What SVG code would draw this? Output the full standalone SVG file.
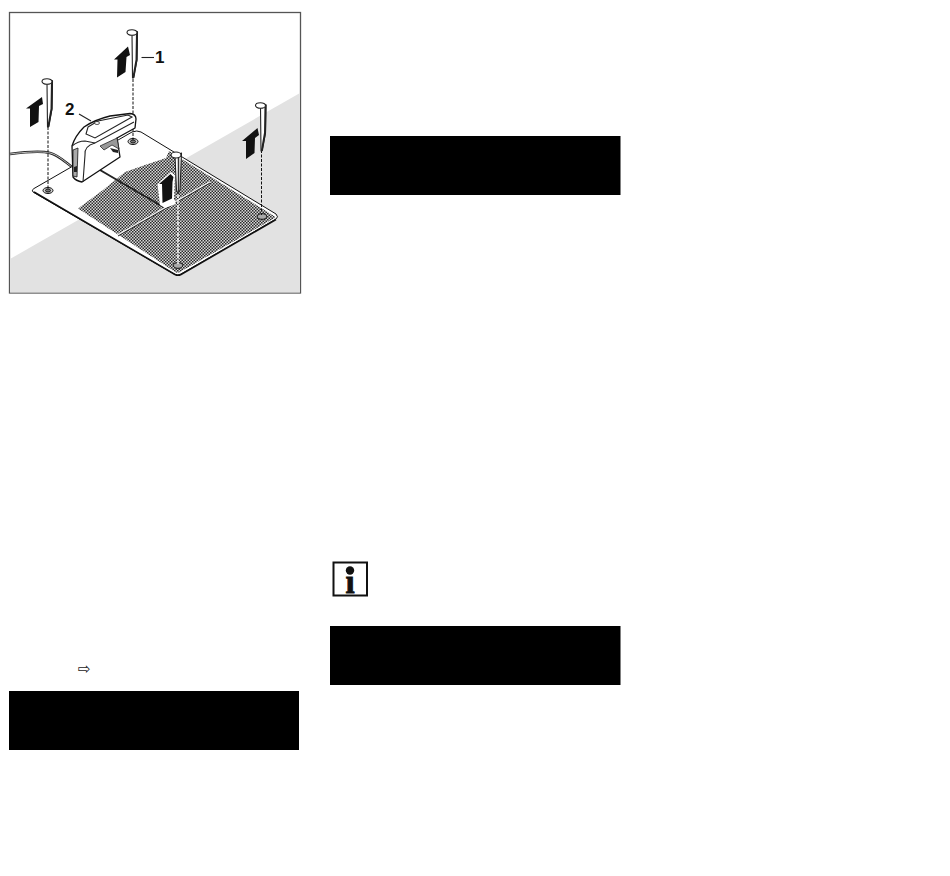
<svg xmlns="http://www.w3.org/2000/svg" width="950" height="876" viewBox="0 0 950 876">
<style>
.o{stroke:#111;stroke-width:1.300;stroke-linejoin:round;stroke-linecap:round}
.h{stroke:#111;stroke-width:1}
.peg{fill:#fff;stroke:#222;stroke-width:1.100;stroke-linejoin:round}
.pegr{fill:none;stroke:#222;stroke-width:2;stroke-linecap:round}
.arr{fill:#111;stroke:none}
.dash{fill:none;stroke:#111;stroke-width:1;stroke-dasharray:3 1.500}
.dashw{fill:none;stroke:#fff;stroke-width:1.400;stroke-dasharray:4 1.500}
.thin{fill:none;stroke:#222;stroke-width:1.100}
.bar{fill:#000}
.lab{font-family:"Liberation Sans",Arial,sans-serif;font-weight:bold;font-size:17px;fill:#111}
</style>
<defs>
<pattern id="mesh" width="3" height="3" patternUnits="userSpaceOnUse">
<rect width="3" height="3" fill="#d8d8d8"/>
<rect width="1.500" height="1.500" fill="#2a2a2a"/>
<rect x="1.500" y="1.500" width="1.500" height="1.500" fill="#2a2a2a"/>
</pattern>
<g id="pegShape">
<path class="peg" d="M1.500 2 L2 46 L3 46 L6.500 28 L7 0 Z"/>
<path class="pegr" d="M6.500 0 L6 28 L3 45"/>
<ellipse class="peg" cx="1.500" cy="0.500" rx="5" ry="2.800"/>
</g>
</defs>
<rect width="950" height="876" fill="#fff"/>
<g id="illustration">
<rect x="9.500" y="12.500" width="291" height="280.500" fill="#fff" stroke="#555" stroke-width="1.300"/>
<polygon points="300,93 300,292.400 10,292.400 10,259" fill="#e2e2e2"/>
<path d="M10 154 C25 152 42 151 50 153 C58 155 64 161 72 167" fill="none" stroke="#222" stroke-width="2.400"/>
<path d="M10 154 C25 152 42 151 50 153 C58 155 64 161 72 167" fill="none" stroke="#fff" stroke-width=".7"/>
<g id="mat">
<path d="M34 188.500 L132 132 Q137 130 141 132 L276 214 Q279 217 276 219 L181 274 Q178 276 174 274 L33 192 Q31 190 34 188.500 Z" fill="#fff" stroke="#111" stroke-width="1"/>
<path d="M34 192 L175 274.500 Q178 276 181 274.500 L276 219.500" fill="none" stroke="#111" stroke-width="1.600"/>
<path d="M78 208.500 L103 190 L125 172 L145 165 L166 158 L169 151 L274 216 Q276 217 274 218.500 L179 272.500 Q178 273 176 272.500 Z" fill="url(#mesh)"/>
<path d="M100 170 L165 208" stroke="#222" stroke-width="2" fill="none"/>
<path d="M118 235 L210 182" stroke="#eee" stroke-width="1.800" fill="none"/>
<path d="M118 236 L210 183" stroke="#222" stroke-width="1" fill="none"/>
<path d="M157.500 184 L171 172 L175 175 L174 199 L176 204 L165 208 L160 205 Z" fill="#fff"/>
<ellipse class="h" cx="48" cy="190.500" rx="5" ry="3" fill="#ccc"/>
<ellipse class="h" cx="48" cy="190.500" rx="2.500" ry="1.500" fill="#777"/>
<ellipse class="h" cx="133" cy="141.500" rx="5" ry="3" fill="#ccc"/>
<ellipse class="h" cx="133" cy="141.500" rx="2.500" ry="1.500" fill="#777"/>
<ellipse class="h" cx="262" cy="216.500" rx="4.500" ry="2.800" fill="#aaa"/>
<ellipse class="h" cx="178" cy="265.500" rx="4.500" ry="2.800" fill="#aaa"/>
</g>
<g id="connectors">
<line class="dash" x1="133" y1="79" x2="133" y2="140"/>
<line class="dash" x1="48" y1="127" x2="48" y2="189"/>
<line class="dash" x1="261.500" y1="150" x2="261.500" y2="215"/>
<line class="dashw" x1="178" y1="194" x2="178" y2="264"/>
<line class="thin" x1="141.500" y1="57.500" x2="154" y2="57.500"/>
<line class="thin" x1="79" y1="114" x2="91" y2="121"/>
</g>
<g id="station">
<path class="o" fill="#fff" d="M73 177 L72 146 Q75 136 84 127 Q94 120 110 116 L130 113.500 Q136 114 136 119 L135 128 L117 138 L120 157 L82 182 Q76 181 73 177 Z"/>
<path class="thin" d="M72 146 Q78 141 85 141 L95 143 L134 122"/>
<path class="thin" d="M88 127 L98 121 L128 115 L132 117 L95 138 L86 134 Z"/>
<path class="thin" d="M95 143 Q84 146 85 155 L83 182"/>
<ellipse cx="97" cy="123" rx="2.500" ry="1.500" fill="#fff" stroke="#111" stroke-width=".7"/>
<path d="M73 150 L78 148 L77 177 L73 176 Z" fill="#aaa" stroke="#111" stroke-width=".8"/>
<path d="M74 167 L77 166 L77 172 L74 172 Z" fill="#222"/>
<path d="M100 146 L117 138 L119 149 L112 145 L104 150 Z" fill="#999" stroke="#111" stroke-width=".7"/>
<path d="M110 148 L118 150 L118 153 L113 152 Z" fill="#222"/>
</g>
<g id="peg-1"><use href="#pegShape" x="130.500" y="32"/><path class="arr" d="M128 46.500 L114 59.500 L117.500 59.500 L117 77.500 L125.500 72 L126.500 57 L130 55 Z"/></g>
<g id="peg-2"><use href="#pegShape" x="45.500" y="81"/><path class="arr" d="M42 97 L26 108.500 L30 108.500 L30 127 L38.500 122 L39 106 L43 104 Z"/></g>
<g id="peg-3"><use href="#pegShape" x="259" y="105"/><path class="arr" d="M257.500 128 L242 141 L246 141 L246 159 L254.500 153 L255 138 L259 135 Z"/></g>
<g id="peg-4">
<path class="peg" d="M175 156 L176.500 190 L178 194 L180 190 L181.500 153 Z"/>
<path d="M178.500 157 L178.500 192" stroke="#333" stroke-width="1.500" fill="none"/>
<ellipse class="peg" cx="176" cy="155" rx="5" ry="3"/>
<path class="arr" d="M170.500 174 L159 184 L162 184 L162.500 203 L172 198.500 L172.500 182 L173.500 177 Z"/>
</g>
<text class="lab" x="155" y="63">1</text>
<text class="lab" x="65" y="115">2</text>
</g>
<g id="info-icon">
<rect x="333.500" y="562.500" width="33.500" height="33" fill="#fff" stroke="#111" stroke-width="2"/>
<circle cx="350" cy="570.500" r="4.200" fill="#111"/>
<text x="350" y="593" text-anchor="middle" font-family="'Liberation Serif',serif" font-weight="bold" font-size="33" fill="#111" stroke="#111" stroke-width=".8">ı</text>
</g>
<g id="pointer">
<text x="78" y="674" font-family="'DejaVu Sans',sans-serif" font-size="15" fill="#222">⇨</text>
</g>
<g id="bars">
<rect class="bar" x="330" y="136" width="290.500" height="59"/>
<rect class="bar" x="330" y="626" width="290.500" height="59"/>
<rect class="bar" x="9" y="691" width="290" height="59"/>
</g>
</svg>
